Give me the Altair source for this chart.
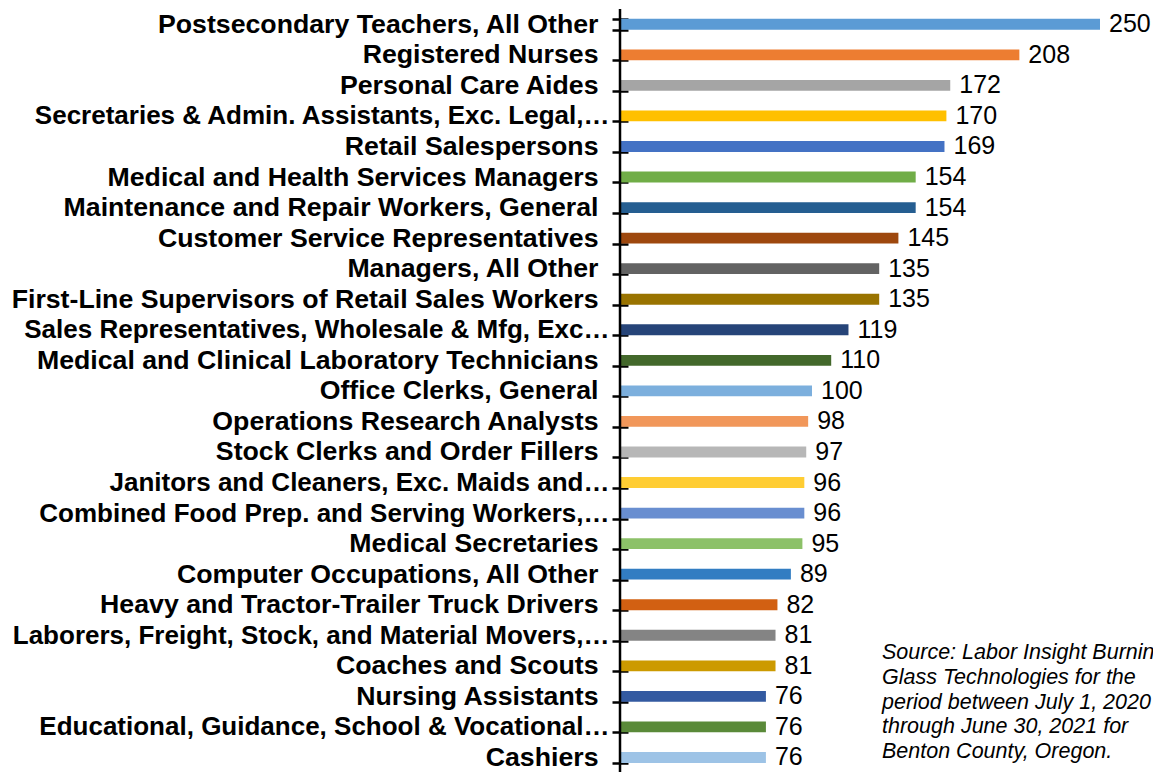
import altair as alt
import pandas as pd

categories = [
    "Postsecondary Teachers, All Other",
    "Registered Nurses",
    "Personal Care Aides",
    "Secretaries & Admin. Assistants, Exc. Legal,…",
    "Retail Salespersons",
    "Medical and Health Services Managers",
    "Maintenance and Repair Workers, General",
    "Customer Service Representatives",
    "Managers, All Other",
    "First-Line Supervisors of Retail Sales Workers",
    "Sales Representatives, Wholesale & Mfg, Exc…",
    "Medical and Clinical Laboratory Technicians",
    "Office Clerks, General",
    "Operations Research Analysts",
    "Stock Clerks and Order Fillers",
    "Janitors and Cleaners, Exc. Maids and…",
    "Combined Food Prep. and Serving Workers,…",
    "Medical Secretaries",
    "Computer Occupations, All Other",
    "Heavy and Tractor-Trailer Truck Drivers",
    "Laborers, Freight, Stock, and Material Movers,…",
    "Coaches and Scouts",
    "Nursing Assistants",
    "Educational, Guidance, School & Vocational…",
    "Cashiers",
]
values = [250, 208, 172, 170, 169, 154, 154, 145, 135, 135, 119, 110, 100,
          98, 97, 96, 96, 95, 89, 82, 81, 81, 76, 76, 76]
colors = [
    "#5B9BD5", "#ED7D31", "#A5A5A5", "#FFC000", "#4472C4", "#70AD47",
    "#255E91", "#9E480E", "#636363", "#997300", "#264478", "#43682B",
    "#7CAFDD", "#F1975A", "#B7B7B7", "#FFCD33", "#698ED0", "#8CC168",
    "#327DC2", "#D26012", "#848484", "#CC9A00", "#335AA1", "#5A8A39",
    "#9DC3E6",
]
source_lines = [
    "Source: Labor Insight Burning",
    "Glass Technologies for the",
    "period between July 1, 2020",
    "through June 30, 2021 for",
    "Benton County, Oregon.",
]

df = pd.DataFrame({"occupation": categories, "postings": values})

W, H = 533, 763          # visible view (kept inside the window)
XMAX = 280
XR, YR = XMAX * 1.92, 763.75   # full scale ranges

x_scale = alt.Scale(domain=[0, XMAX], range=[0, XR], nice=False)
y_scale = alt.Scale(paddingInner=0.644, paddingOuter=0.322, range=[0, YR])

is_trunc = "indexof(datum.label, '…') >= 0"

y_enc = alt.Y(
    "occupation:N",
    sort=categories,
    title=None,
    scale=y_scale,
    axis=alt.Axis(
        offset=-8,
        tickSize=16,
        tickWidth=2.5,
        tickColor="black",
        tickBand="extent",
        domain=False,
        labelPadding={"condition": {"test": is_trunc, "value": 3}, "value": 14},
        labelFontSize={"condition": {"test": is_trunc, "value": 26}, "value": 26.7},
        labelFont="Liberation Sans",
        labelFontWeight="bold",
        labelColor="black",
        labelLimit=900,
    ),
)
x_enc = alt.X("postings:Q", scale=x_scale, axis=None)

base = alt.Chart(df)

bars = base.mark_bar().encode(
    x=x_enc,
    y=y_enc,
    color=alt.Color("occupation:N", scale=alt.Scale(domain=categories, range=colors), legend=None),
)

labels = base.mark_text(
    align="left", baseline="middle", dx=9, fontSize=25, font="Liberation Sans", color="black"
).encode(
    x=x_enc,
    y=alt.Y("occupation:N", sort=categories),
    text=alt.Text("postings:Q"),
)

domain_line = alt.Chart(pd.DataFrame({"v": [0]})).mark_rule(
    color="black", strokeWidth=2.5
).encode(x=alt.X("v:Q", scale=x_scale, axis=None))

source = alt.Chart(pd.DataFrame({"t": ["\n".join(source_lines)]})).mark_text(
    align="left", baseline="alphabetic", fontSize=21.5, fontStyle="italic",
    font="Liberation Sans", color="black", lineHeight=24.75, lineBreak="\n",
).encode(x=alt.value(262), y=alt.value(650), text="t:N")

chart = alt.layer(bars, domain_line, labels, source).properties(
    width=W,
    height=H,
    autosize=alt.AutoSizeParams(type="none"),
    padding={"left": 612, "top": 1, "right": 0, "bottom": 0},
).configure_view(stroke=None)

chart.save("out.html", embed_options={"renderer": "svg", "actions": False})
